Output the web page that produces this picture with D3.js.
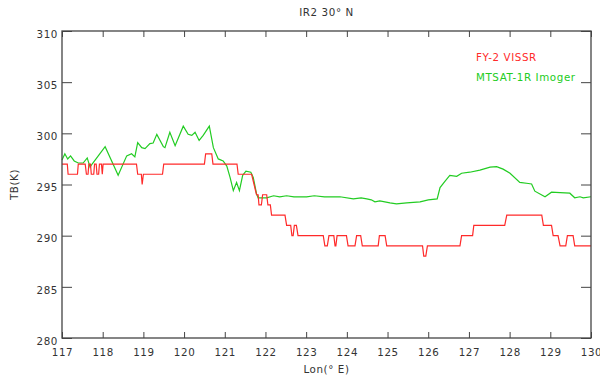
<!DOCTYPE html>
<html>
<head>
<meta charset="utf-8">
<script src="https://cdn.jsdelivr.net/npm/d3@7"></script>
<style>
  body { margin: 0; background: #fff; }
  svg { display: block; }
  text { font-family: 'DejaVu Sans', sans-serif; font-size: 10.3px; fill: #333; letter-spacing: 0.6px; }
</style>
</head>
<body>
<svg id="chart" width="600" height="377"></svg>
<script>
//
// Data
//

var title = 'IR2 30° N'
var xLabel = 'Lon(° E)'
var yLabel = 'TB(K)'
var seriesNames = ['FY-2 VISSR', 'MTSAT-1R Imoger']

var xTicks = [117, 118, 119, 120, 121, 122, 123, 124, 125, 126, 127, 128, 129, 130]
var yTicks = [280, 285, 290, 295, 300, 305, 310]

// FY-2 VISSR, stepped integer values
var fyLon = [117.00, 117.13, 117.15, 117.38, 117.40, 117.57, 117.60, 117.64, 117.66, 117.70,
  117.72, 117.78, 117.80, 117.84, 117.86, 117.90, 117.92, 117.97, 117.99, 118.01,
  118.83, 118.86, 118.95, 118.97, 119.00, 119.47, 119.50, 120.50, 120.53, 120.68,
  120.71, 121.30, 121.33, 121.66, 121.72, 121.78, 121.82, 121.84, 121.90, 121.93,
  122.03, 122.06, 122.12, 122.15, 122.48, 122.52, 122.62, 122.65, 122.68, 122.71,
  122.76, 122.80, 123.42, 123.46, 123.52, 123.56, 123.68, 123.71, 123.73, 123.76,
  123.99, 124.03, 124.20, 124.24, 124.34, 124.38, 124.77, 124.80, 124.94, 124.98,
  125.86, 125.89, 125.94, 125.98, 126.78, 126.82, 127.09, 127.12, 127.88, 127.93,
  128.79, 128.83, 129.03, 129.07, 129.19, 129.24, 129.38, 129.42, 129.56, 129.60,
  130.00]
var fyTb = [297, 297, 296, 296, 297, 297, 296, 296, 297, 297,
  296, 296, 297, 297, 296, 296, 297, 297, 296, 297,
  297, 296, 296, 295, 296, 296, 297, 297, 298, 298,
  297, 297, 296, 296, 295, 294, 294, 293, 293, 294,
  294, 293, 293, 292, 292, 291, 291, 290, 290, 291,
  291, 290, 290, 289, 289, 290, 290, 289, 289, 290,
  290, 289, 289, 290, 290, 289, 289, 290, 290, 289,
  289, 288, 288, 289, 289, 290, 290, 291, 291, 292,
  292, 291, 291, 290, 290, 289, 289, 290, 290, 289,
  289]

// MTSAT-1R Imager
var mtLon = [117.00, 117.07, 117.14, 117.21, 117.30, 117.40, 117.52, 117.62, 117.69, 117.74,
  118.06, 118.38, 118.59, 118.71, 118.79, 118.86, 118.96, 119.04, 119.16, 119.24,
  119.33, 119.49, 119.53, 119.65, 119.78, 119.98, 120.10, 120.19, 120.27, 120.37,
  120.47, 120.62, 120.72, 120.84, 120.96, 121.05, 121.13, 121.21, 121.29, 121.36,
  121.44, 121.52, 121.64, 121.70, 121.78, 121.82, 122.03, 122.20, 122.35, 122.52,
  122.70, 123.01, 123.20, 123.45, 123.83, 124.16, 124.35, 124.49, 124.60, 124.69,
  124.81, 125.06, 125.22, 125.47, 125.80, 126.00, 126.22, 126.29, 126.41, 126.53,
  126.70, 126.82, 127.02, 127.27, 127.52, 127.68, 127.84, 128.01, 128.25, 128.46,
  128.54, 128.62, 128.87, 129.03, 129.24, 129.48, 129.60, 129.73, 129.81, 130.00]
var mtTb = [297.4, 298.0, 297.5, 297.8, 297.3, 297.1, 297.1, 297.6, 296.7, 297.0,
  298.7, 295.9, 297.8, 298.0, 297.7, 299.1, 298.6, 298.5, 299.0, 299.05,
  299.9, 298.7, 298.6, 300.1, 298.8, 300.7, 299.9, 299.8, 300.1, 299.3,
  299.8, 300.7, 298.6, 297.5, 297.3, 296.8, 295.7, 294.4, 295.2, 294.4,
  295.9, 296.3, 296.2, 295.7, 294.1, 293.7, 293.7, 293.9, 293.8, 293.9,
  293.8, 293.8, 293.9, 293.8, 293.8, 293.6, 293.7, 293.6, 293.5, 293.3,
  293.4, 293.2, 293.1, 293.2, 293.3, 293.5, 293.6, 294.7, 295.3, 295.9,
  295.8, 296.1, 296.2, 296.4, 296.7, 296.75, 296.5, 296.1, 295.2, 295.1,
  295.05, 294.35, 293.8, 294.25, 294.2, 294.15, 293.7, 293.8, 293.7, 293.8]

//
// Configuration
//

var colorFy = '#ff2a2a'
var colorMt = '#22cc22'
var colorAxis = '#444'
var plot = { left: 62, right: 591, top: 31, bottom: 338 }

//
// Drawing
//

var svg = d3.select('#chart')

var x = d3.scaleLinear().domain([117, 130]).range([plot.left, plot.right])
var y = d3.scaleLinear().domain([280, 310]).range([plot.bottom, plot.top])

function drawSeries(lons, tbs, color) {
  var line = d3.line()
    .x(function (d, i) { return x(lons[i]) })
    .y(function (d, i) { return y(tbs[i]) })
  svg.append('path')
    .attr('d', line(tbs))
    .attr('fill', 'none')
    .attr('stroke', color)
    .attr('stroke-width', 1.2)
}

drawSeries(mtLon, mtTb, colorMt)
drawSeries(fyLon, fyTb, colorFy)

// axes, ticks point inwards like IDL
var gBottom = svg.append('g')
  .attr('transform', 'translate(0,' + plot.bottom + ')')
  .call(d3.axisBottom(x).tickValues(xTicks).tickSize(-6).tickPadding(11).tickFormat(d3.format('d')))
var gTop = svg.append('g')
  .attr('transform', 'translate(0,' + plot.top + ')')
  .call(d3.axisTop(x).tickValues(xTicks).tickSize(-6).tickFormat(''))
var gLeft = svg.append('g')
  .attr('transform', 'translate(' + plot.left + ',0)')
  .call(d3.axisLeft(y).tickValues(yTicks).tickSize(-10).tickPadding(4).tickFormat(d3.format('d')))
var gRight = svg.append('g')
  .attr('transform', 'translate(' + plot.right + ',0)')
  .call(d3.axisRight(y).tickValues(yTicks).tickSize(-10).tickFormat(''))

;[gBottom, gTop, gLeft, gRight].forEach(function (g) {
  g.selectAll('.domain').remove()
  g.selectAll('line').attr('stroke', colorAxis)
  g.selectAll('text').attr('fill', '#333')
  g.attr('font-family', null).attr('font-size', null)
})
gLeft.selectAll('text').attr('dy', '0.6em')

svg.append('rect')
  .attr('x', plot.left)
  .attr('y', plot.top)
  .attr('width', plot.right - plot.left)
  .attr('height', plot.bottom - plot.top)
  .attr('fill', 'none')
  .attr('stroke', colorAxis)
  .attr('stroke-width', 1.3)

// labels
svg.append('text')
  .attr('x', (plot.left + plot.right) / 2)
  .attr('y', 16)
  .attr('text-anchor', 'middle')
  .text(title)

svg.append('text')
  .attr('x', (plot.left + plot.right) / 2)
  .attr('y', 373)
  .attr('text-anchor', 'middle')
  .text(xLabel)

svg.append('text')
  .attr('transform', 'translate(18,' + (plot.top + plot.bottom) / 2 + ') rotate(-90)')
  .attr('text-anchor', 'middle')
  .text(yLabel)

// legend
svg.append('text')
  .attr('x', 476)
  .attr('y', 61)
  .style('fill', colorFy)
  .text(seriesNames[0])

svg.append('text')
  .attr('x', 476)
  .attr('y', 81)
  .style('fill', colorMt)
  .text(seriesNames[1])
</script>
</body>
</html>
